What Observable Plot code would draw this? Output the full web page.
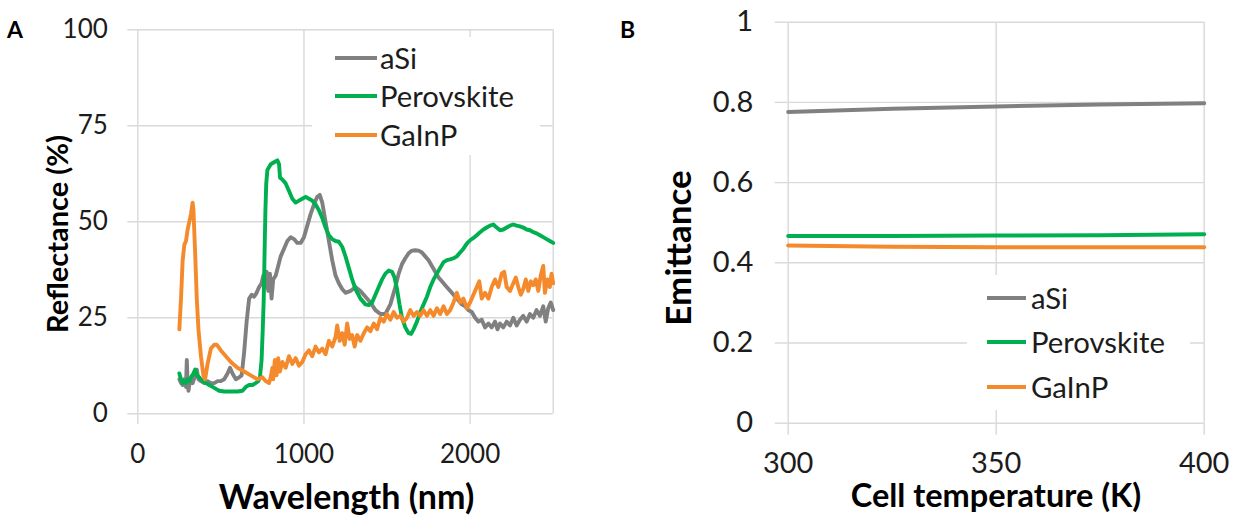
<!DOCTYPE html>
<html><head><meta charset="utf-8">
<script src="https://cdn.jsdelivr.net/npm/d3@7"></script>
<script src="https://cdn.jsdelivr.net/npm/@observablehq/plot@0.6"></script>
<style>
body{margin:0;background:#fff;font-family:Lato,"Open Sans",sans-serif;}
#wrap{position:relative;width:1237px;height:521px;overflow:hidden;background:#fff;}
.panel{position:absolute;top:0;}
.t{position:absolute;white-space:nowrap;color:#1c1c1c;line-height:1;}
.b{font-weight:bold;color:#000;}
.legbox{position:absolute;background:#fff;}
.legline{position:absolute;height:4px;}
</style></head><body><div id="wrap"></div>
<script>
// ---------- data ----------
const seriesNames = ["aSi", "Perovskite", "GaInP"];
const seriesColors = ["#808080", "#00b050", "#f58a2d"];

// Panel A: reflectance (%) vs wavelength (nm)
const aSiReflectance = [[250,9],[260,8],[270,7.5],[280,9],[290,7],[295,14],[300,8],[305,6],[315,9],[330,8],[345,10],[355,11.5],[365,9],[380,8.5],[400,8],[420,8.5],[440,8],[460,8],[480,8.5],[500,8.5],[520,9],[540,10.5],[555,12],[570,10.5],[590,9],[610,9.5],[625,10],[640,16],[655,24],[670,30],[685,31],[700,30.5],[715,31.5],[730,33],[745,34],[755,36],[765,33],[775,37],[785,32],[795,36.5],[805,30],[815,35],[830,36],[845,38.5],[860,41],[880,43],[900,45],[920,46],[940,45.5],[960,44.5],[980,44.5],[1000,46],[1020,49],[1040,52],[1060,54.5],[1080,56.5],[1095,57],[1110,55],[1130,50],[1150,45],[1170,40],[1190,36],[1210,34],[1230,32.5],[1250,31.5],[1280,32],[1310,33],[1340,32],[1370,30.5],[1400,29],[1430,27],[1460,26],[1490,26],[1520,28.5],[1550,33],[1570,36.5],[1590,39],[1610,40.5],[1630,41.8],[1650,42.5],[1670,42.6],[1690,42.5],[1710,42],[1730,41],[1750,40],[1770,38.5],[1790,37],[1810,35.5],[1830,34.5],[1850,33.5],[1870,32.5],[1890,31.5],[1910,30.5],[1930,29.5],[1950,28.5],[1970,28],[1990,27],[2010,26.5],[2030,25],[2050,24],[2070,24.5],[2090,22.5],[2110,23.5],[2130,22.5],[2150,24],[2165,22],[2180,23.5],[2200,22.5],[2220,24],[2240,23],[2260,25],[2280,23],[2300,24.5],[2320,25.5],[2340,24],[2360,26],[2380,25],[2400,27],[2420,25.5],[2440,28],[2455,24],[2470,27.5],[2485,29],[2500,27]];

const perovskiteReflectance = [[250,10.5],[260,9],[270,8],[280,8.5],[290,8],[300,9],[310,8.5],[320,9.5],[335,10.5],[345,11.5],[355,10],[370,9.5],[390,8.5],[410,8],[430,7.5],[450,7],[470,6.5],[490,6],[520,5.8],[560,5.8],[600,5.8],[630,6],[650,7],[670,7.5],[690,7.5],[710,8],[725,8.5],[735,9.5],[745,14],[752,22],[758,30],[763,42],[768,53],[773,60],[780,63.5],[800,65],[820,65.5],[840,66],[850,65],[856,61.5],[870,61],[890,60],[910,58],[930,56],[950,55],[970,55.5],[990,56],[1010,56.5],[1030,56],[1050,55.5],[1070,54.5],[1090,53],[1110,51],[1130,48.5],[1150,46.5],[1170,45.5],[1190,45],[1210,44.8],[1230,43.5],[1250,41],[1270,38],[1290,35],[1310,32.5],[1340,30],[1370,28.5],[1390,28.3],[1410,29],[1430,31],[1450,33],[1470,35],[1490,36.5],[1510,37.3],[1530,37],[1545,35.5],[1560,32.5],[1575,28.5],[1590,25],[1610,22.5],[1630,21],[1645,20.8],[1660,22],[1680,24],[1700,26.5],[1720,28.5],[1740,30.5],[1760,33],[1780,35],[1800,36.5],[1820,38],[1840,39.5],[1860,40],[1880,40.2],[1900,40.5],[1920,41],[1940,42],[1960,43],[1980,44.3],[2000,45.2],[2020,45.8],[2040,46.5],[2060,47.3],[2080,48],[2100,48.5],[2120,49],[2140,49.3],[2160,48.5],[2180,47.8],[2200,48],[2220,48.5],[2240,49],[2260,49.3],[2280,49],[2300,48.8],[2320,48.5],[2340,48],[2360,47.8],[2380,47.3],[2400,47],[2420,46.5],[2440,46],[2460,45.5],[2480,45],[2500,44.5]];

const gaInPReflectance = [[250,22],[260,30],[270,40],[280,44],[290,45],[300,48],[310,50],[320,52],[330,55],[335,53],[345,42],[355,30],[365,22],[380,15],[395,10],[405,9],[420,13],[440,17],[460,18],[475,18],[500,16.5],[530,15],[560,13.5],[600,12],[640,11],[680,10],[720,9],[750,9.5],[770,8.5],[790,8],[800,9.5],[810,12],[815,9],[825,14],[835,10],[845,14.5],[855,11],[870,13.5],[890,12],[910,15],[930,13],[950,14.5],[970,12.5],[990,13.5],[1010,15.5],[1030,16.5],[1050,15],[1070,17.5],[1090,16],[1110,17],[1130,15.5],[1150,19],[1170,17.5],[1190,20],[1200,23],[1215,19],[1230,21],[1245,18],[1260,23.5],[1275,19.5],[1290,20.5],[1305,17.5],[1320,20.5],[1340,19],[1360,21],[1380,22.5],[1400,21.5],[1420,23.5],[1440,22],[1460,25],[1480,24],[1500,26],[1520,24.5],[1540,26.5],[1560,25],[1580,25.5],[1600,24],[1620,25],[1640,27],[1660,25.5],[1680,26.5],[1700,25.5],[1720,27],[1740,25.5],[1760,27],[1780,25.5],[1800,27.5],[1820,26],[1840,28],[1860,26],[1880,27],[1900,29],[1920,31.5],[1940,29],[1960,30],[1980,27.5],[2000,29],[2020,31],[2040,33],[2055,34.5],[2070,30],[2090,31.5],[2110,30],[2130,33],[2150,35],[2170,33],[2190,36.5],[2205,37],[2220,33],[2240,32],[2260,34],[2275,35.5],[2290,33],[2305,31],[2320,32.5],[2335,35],[2350,32],[2365,34.5],[2380,33.5],[2395,35],[2410,32],[2425,36],[2440,38.5],[2450,31.5],[2465,35],[2480,33],[2490,36.5],[2500,34]];

const wavelengthTicks = [0, 1000, 2000];
const reflectanceTicks = [0, 25, 50, 75, 100];

// Panel B: emittance vs cell temperature (K)
const cellTemperature = [300, 325, 350, 375, 400];
const aSiEmittance = [0.776, 0.784, 0.790, 0.795, 0.798];
const perovskiteEmittance = [0.467, 0.467, 0.468, 0.469, 0.471];
const gaInPEmittance = [0.443, 0.440, 0.439, 0.439, 0.439];
const temperatureTicks = [300, 350, 400];
const emittanceTicks = [0, 0.2, 0.4, 0.6, 0.8, 1];

// ---------- build ----------
const wrap = document.getElementById("wrap");
const GRID = "#d9d9d9";
const TXT = "#1c1c1c";
const FONT = "Lato, 'Open Sans', sans-serif";

const toRows = (arr) => arr.map(([x, y]) => ({x, y}));
const seriesA = [aSiReflectance, perovskiteReflectance, gaInPReflectance].map(toRows);
const seriesB = [aSiEmittance, perovskiteEmittance, gaInPEmittance]
  .map(vals => vals.map((y, i) => ({x: cellTemperature[i], y})));

const plotA = Plot.plot({
  width: 600, height: 521,
  marginLeft: 137.3, marginRight: 47.3, marginTop: 29.3, marginBottom: 107.7,
  x: {domain: [0, 2500]},
  y: {domain: [0, 100]},
  style: {fontFamily: FONT, fontSize: "26px", background: "transparent", overflow: "visible"},
  marks: [
    Plot.gridX(wavelengthTicks, {stroke: GRID, strokeOpacity: 1, strokeWidth: 1.4}),
    Plot.gridY(reflectanceTicks, {stroke: GRID, strokeOpacity: 1, strokeWidth: 1.4}),
    Plot.ruleX([2500], {stroke: GRID, strokeWidth: 1.4}),
    Plot.axisX(wavelengthTicks, {tickSize: 11, tickPadding: 20, stroke: GRID, strokeWidth: 1.4, fill: TXT, fontSize: 26, label: null, tickFormat: d => String(d)}),
    Plot.axisY(reflectanceTicks, {tickSize: 10, tickPadding: 20, stroke: GRID, strokeWidth: 1.4, fill: TXT, fontSize: 26, label: null, tickFormat: d => String(d)}),
    ...seriesA.map((rows, i) => Plot.line(rows, {x: "x", y: "y", stroke: seriesColors[i], strokeWidth: 3.9, strokeLinejoin: "round", curve: "linear"}))
  ]
});
plotA.classList.add("panel");
plotA.style.left = "0px";
wrap.appendChild(plotA);

const plotB = Plot.plot({
  width: 637, height: 521,
  marginLeft: 187.7, marginRight: 33.3, marginTop: 21.7, marginBottom: 98.3,
  x: {domain: [300, 400]},
  y: {domain: [0, 1]},
  style: {fontFamily: FONT, fontSize: "29px", background: "transparent", overflow: "visible"},
  marks: [
    Plot.gridX(temperatureTicks, {stroke: GRID, strokeOpacity: 1, strokeWidth: 1.4}),
    Plot.gridY(emittanceTicks, {stroke: GRID, strokeOpacity: 1, strokeWidth: 1.4}),
    Plot.axisX(temperatureTicks, {tickSize: 12, tickPadding: 17, stroke: GRID, strokeWidth: 1.4, fill: TXT, fontSize: 29, label: null, tickFormat: d => String(d)}),
    Plot.axisY(emittanceTicks, {tickSize: 13, tickPadding: 22, stroke: GRID, strokeWidth: 1.4, fill: TXT, fontSize: 29, label: null, tickFormat: d => String(d)}),
    ...seriesB.map((rows, i) => Plot.line(rows, {x: "x", y: "y", stroke: seriesColors[i], strokeWidth: 4}))
  ]
});
plotB.classList.add("panel");
plotB.style.left = "600px";
wrap.appendChild(plotB);

// ---------- text & legends ----------
function addText(txt, left, top, cls, size, extra) {
  const d = document.createElement("div");
  d.className = "t " + (cls || "");
  d.textContent = txt;
  d.style.left = left + "px";
  d.style.top = top + "px";
  d.style.fontSize = size + "px";
  if (extra) Object.assign(d.style, extra);
  wrap.appendChild(d);
  return d;
}
// panel letters
addText("A", 7, 18, "b", 23);
addText("B", 620, 18, "b", 23);
// axis titles
addText("Wavelength (nm)", 346.5, 496, "b", 34, {transform: "translate(-50%,-50%)"});
addText("Reflectance (%)", 56, 234, "b", 29, {transform: "translate(-50%,-50%) rotate(-90deg)"});
addText("Cell temperature (K)", 996, 495, "b", 32.5, {transform: "translate(-50%,-50%)", lineHeight: "0.75"});
addText("Emittance", 677, 247.5, "b", 35, {transform: "translate(-50%,-50%) rotate(-90deg)"});

function legend(box, lineX1, lineX2, textX, rowsY, size) {
  const b = document.createElement("div");
  b.className = "legbox";
  Object.assign(b.style, {left: box[0] + "px", top: box[1] + "px", width: (box[2] - box[0]) + "px", height: (box[3] - box[1]) + "px"});
  wrap.appendChild(b);
  seriesNames.forEach((name, i) => {
    const l = document.createElement("div");
    l.className = "legline";
    Object.assign(l.style, {left: lineX1 + "px", top: (rowsY[i] - 2) + "px", width: (lineX2 - lineX1) + "px", background: seriesColors[i]});
    wrap.appendChild(l);
    addText(name, textX, rowsY[i], "", size, {transform: "translateY(-52%)"});
  });
}
legend([312, 37, 540, 155], 335, 377, 380, [58, 96, 135], 29.3);
legend([967, 275, 1190, 410], 987, 1026, 1031, [298, 342, 387], 29.3);
</script></body></html>
